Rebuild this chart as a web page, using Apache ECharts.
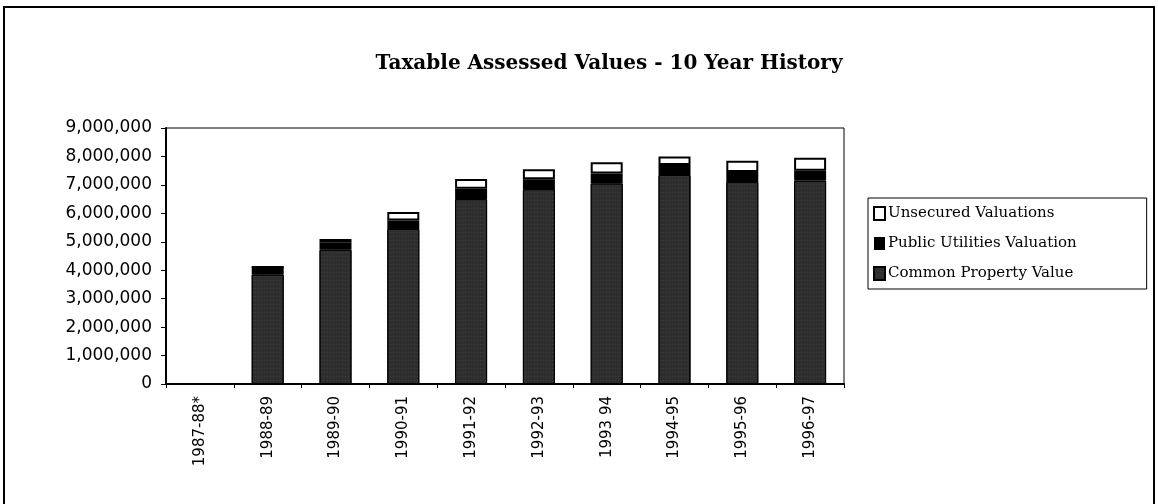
<!DOCTYPE html>
<html lang="en">
<head>
	<meta charset="UTF-8">
	<title>Taxable Assessed Values - 10 Year History</title>
	<script src="https://cdn.jsdelivr.net/npm/echarts@6/dist/echarts.min.js"></script>
	<style>
		html, body { margin: 0; padding: 0; background: #fff; }
		#chart { width: 1158px; height: 504px; }
	</style>
</head>
<body>
	<div id="chart"></div>
</body>
<script>
// fiscal years, 1987-88 has no figures (marked *)
var years = ['1987-88*', '1988-89', '1989-90', '1990-91', '1991-92', '1992-93', '1993 94', '1994-95', '1995-96', '1996-97'];
var commonProperty = [0, 3850000, 4720000, 5450000, 6500000, 6850000, 7050000, 7350000, 7100000, 7150000];
var publicUtilities = [0, 260000, 260000, 300000, 360000, 350000, 350000, 350000, 350000, 350000];
var unsecured = [0, 0, 120000, 300000, 350000, 350000, 400000, 300000, 400000, 450000];

var myChart = echarts.init(document.getElementById('chart'));

var option = {
    animation: false,
    backgroundColor: '#fff',
    title: {
        text: 'Taxable Assessed Values - 10 Year History',
        left: 604,
        top: 49,
        textAlign: 'center',
        textStyle: {
            fontFamily: 'DejaVu Serif',
            fontWeight: 'bold',
            fontSize: 20,
            color: '#000'
        }
    },
    graphic: [{
        type: 'rect',
        shape: { x: 4, y: 7, width: 1150, height: 520 },
        style: { fill: 'none', stroke: '#000', lineWidth: 2 }
    }],
    legend: {
        orient: 'vertical',
        left: 868,
        top: 198,
        icon: 'rect',
        itemWidth: 11,
        itemHeight: 13,
        itemGap: 15,
        padding: [8, 70, 8, 5],
        borderColor: '#000',
        borderWidth: 1,
        data: ['Unsecured Valuations', 'Public Utilities Valuation', 'Common Property Value'],
        textStyle: {
            fontFamily: 'DejaVu Serif',
            fontSize: 15,
            color: '#000',
            padding: [0, 0, 0, -2]
        }
    },
    grid: {
        left: 166,
        right: 314,
        top: 128,
        bottom: 120,
        show: true,
        borderColor: '#000',
        borderWidth: 1
    },
    xAxis: {
        type: 'category',
        data: years,
        axisLine: { lineStyle: { color: '#000', width: 2 } },
        axisTick: { show: true, length: 4, lineStyle: { color: '#000' } },
        axisLabel: {
            rotate: 90,
            margin: 12,
            fontFamily: 'DejaVu Sans',
            fontSize: 15,
            color: '#000',
            interval: 0
        }
    },
    yAxis: {
        type: 'value',
        min: 0,
        max: 9000000,
        interval: 1000000,
        splitLine: { show: false },
        axisLine: { show: true, lineStyle: { color: '#000', width: 2 } },
        axisTick: { show: true, length: 5, lineStyle: { color: '#000' } },
        axisLabel: {
            margin: 14,
            fontFamily: 'DejaVu Sans',
            fontSize: 17,
            color: '#000',
            formatter: function (v) {
                return v.toLocaleString('en-US');
            }
        }
    },
    series: [{
        name: 'Common Property Value',
        type: 'bar',
        stack: 'total',
        data: commonProperty,
        barWidth: 32,
        itemStyle: {
            color: '#2e2e2e',
            borderColor: '#000',
            borderWidth: 1,
            decal: {
                symbol: 'rect',
                symbolSize: 0.5,
                color: 'rgba(170,170,170,0.55)',
                dashArrayX: [1, 2],
                dashArrayY: [1, 3],
                rotation: 0
            }
        }
    }, {
        name: 'Public Utilities Valuation',
        type: 'bar',
        stack: 'total',
        data: publicUtilities,
        itemStyle: { color: '#000' }
    }, {
        name: 'Unsecured Valuations',
        type: 'bar',
        stack: 'total',
        data: unsecured,
        itemStyle: { color: '#fff', borderColor: '#000', borderWidth: 2 }
    }]
};

myChart.setOption(option);
</script>
</html>
